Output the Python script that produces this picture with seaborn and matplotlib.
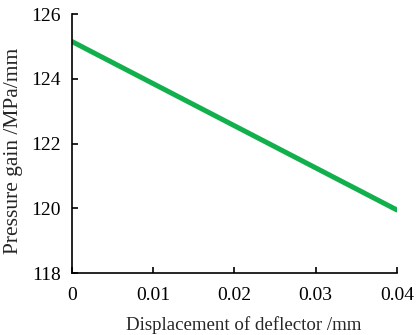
import matplotlib
matplotlib.use("Agg")
import matplotlib.pyplot as plt
import seaborn as sns
import pandas as pd

displacement = [0.0, 0.01, 0.02, 0.03, 0.04]
pressure_gain = [125.15, 123.85, 122.55, 121.25, 119.95]
x_ticks = [0, 0.01, 0.02, 0.03, 0.04]
x_tick_labels = ["0", "0.01", "0.02", "0.03", "0.04"]
y_ticks = [118, 120, 122, 124, 126]

sns.set_theme(style="ticks")
plt.rcParams["font.family"] = ["Liberation Serif", "DejaVu Serif"]

df = pd.DataFrame({"x": displacement, "y": pressure_gain})

fig = plt.figure(figsize=(4.19, 3.35), dpi=100)
ax = fig.add_axes([0.172, 0.185, 0.775, 0.773])
sns.lineplot(data=df, x="x", y="y", ax=ax, color="#12B04C", linewidth=3.6)

ax.set_xlim(0, 0.04)
ax.set_ylim(118, 126)
ax.set_xticks(x_ticks)
ax.set_xticklabels(x_tick_labels)
ax.set_yticks(y_ticks)
ax.tick_params(direction="in", length=4, width=1.2, labelsize=14, colors="black")
ax.tick_params(axis="x", pad=10)
ax.tick_params(axis="y", pad=8)
for side in ("top", "right"):
    ax.spines[side].set_visible(False)
for side in ("left", "bottom"):
    ax.spines[side].set_linewidth(1.2)
    ax.spines[side].set_color("black")

ax.set_xlabel("Displacement of deflector /mm", fontsize=13.6, labelpad=9)
ax.xaxis.label.set_x(0.528)
ax.set_ylabel("Pressure gain /MPa/mm", fontsize=15.5)
ax.yaxis.set_label_coords(-0.152, 0.47)

fig.savefig("out.png", dpi=100)
